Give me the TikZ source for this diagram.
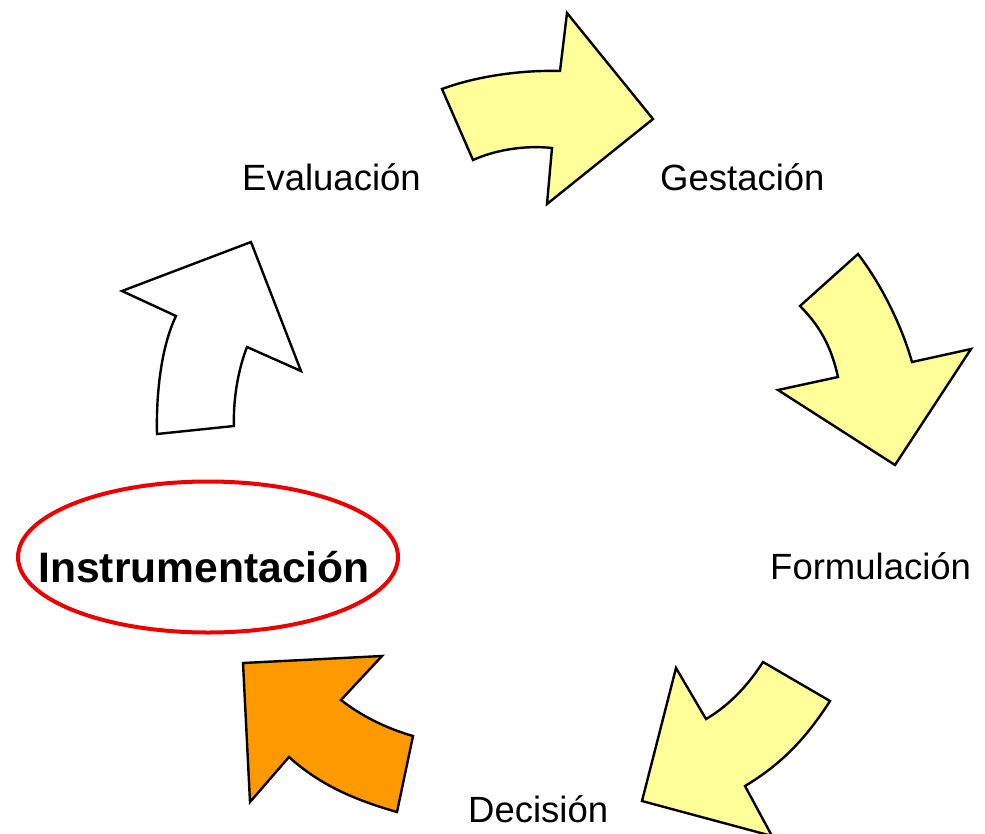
\documentclass[tikz,border=0pt]{standalone}
\usepackage{fontspec}
\setmainfont{Liberation Sans}
\definecolor{paleyellow}{HTML}{FFFF99}
\definecolor{arroworange}{HTML}{FF9900}
\definecolor{ellred}{HTML}{EE0000}
\begin{document}
\begin{tikzpicture}[x=1pt,y=-1pt,
  bigarrow/.style={draw=black,line width=2.4pt,line join=miter},
  stagelabel/.style={inner sep=0pt,anchor=base west,font=\fontsize{36.5}{40}\selectfont},
  mainlabel/.style={inner sep=0pt,anchor=base,font=\fontsize{42.6}{46}\selectfont\bfseries}]
\clip (0,0) rectangle (985,833);
\fill[white] (0,0) rectangle (985,833);
% top arrow (to Gestacion)
\draw[bigarrow,fill=paleyellow] (442,89) .. controls (480,75) and (525,70) .. (560,71)
  -- (567,13) -- (653,119) -- (547,204) -- (552,148)
  .. controls (525,145) and (495,150) .. (473,160) -- cycle;
% right arrow (to Formulacion)
\draw[bigarrow,fill=paleyellow] (800,306) -- (858,254)
  .. controls (878,280) and (900,320) .. (912,362)
  -- (971,349) -- (895,465) -- (778,390) -- (838,377)
  .. controls (832,350) and (822,328) .. (800,306) -- cycle;
% bottom right arrow (to Decision)
\draw[bigarrow,fill=paleyellow] (763,662) -- (830,701)
  .. controls (805,740) and (780,765) .. (745,786)
  -- (772,836) -- (642,801) -- (676,668) -- (706,719)
  .. controls (725,708) and (745,690) .. (763,662) -- cycle;
% bottom left orange arrow (to Instrumentacion)
\draw[bigarrow,fill=arroworange] (243,663) -- (382,656) -- (341,700)
  .. controls (360,715) and (385,728) .. (413,736)
  -- (397,812)
  .. controls (355,800) and (320,785) .. (289,757)
  -- (250,802) -- cycle;
% left white arrow (to Evaluacion)
\draw[bigarrow,fill=white] (157,434) -- (234,426)
  .. controls (233,400) and (238,370) .. (247,347)
  -- (301,371) -- (251,242) -- (122,291) -- (176,316)
  .. controls (162,345) and (156,390) .. (157,434) -- cycle;
% ellipse
\draw[ellred,line width=4pt] (208,557) ellipse [x radius=190,y radius=75.5];
% labels
\node[stagelabel] (eval) at (242,190) {Evaluación};
\node[stagelabel] (gest) at (660,190) {Gestación};
\node[stagelabel] (form) at (770,579) {Formulación};
\node[stagelabel] (deci) at (468,822) {Decisión};
\node[mainlabel] (inst) at (204,582) {Instrumentación};
\end{tikzpicture}
\end{document}
